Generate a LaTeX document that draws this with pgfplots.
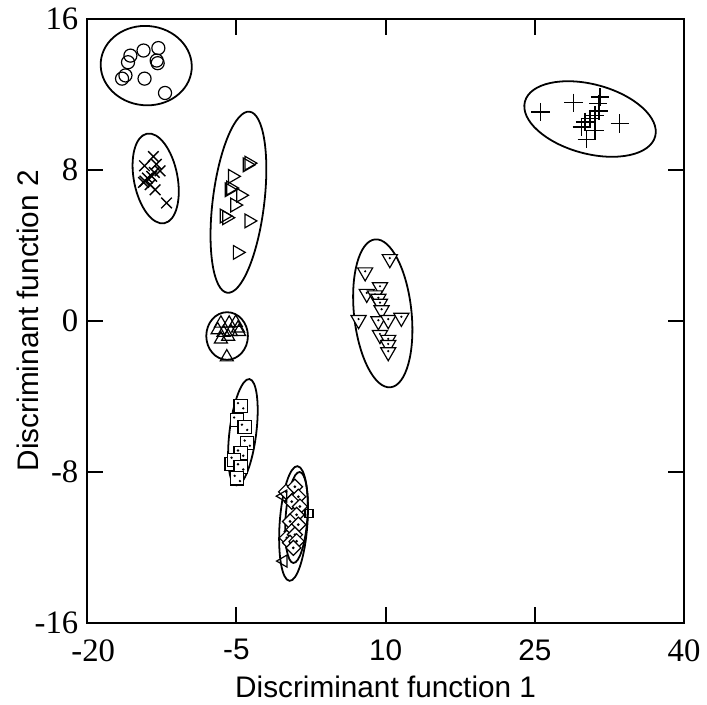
\documentclass[border=0pt]{standalone}
\usepackage{fontspec}
\setmainfont{Liberation Serif}
\newfontfamily\sansf{Liberation Sans}
\usepackage{pgfplots}
\pgfplotsset{compat=1.18}

\newcommand{\sr}{\rmfamily\fontsize{16.5}{19}\selectfont}
\newcommand{\sn}{\sansf\fontsize{15}{18}\selectfont}

% square with two dots
\pgfdeclareplotmark{dotsquare}{%
  \pgfpathrectangle{\pgfqpoint{-\pgfplotmarksize}{-\pgfplotmarksize}}{\pgfqpoint{2\pgfplotmarksize}{2\pgfplotmarksize}}%
  \pgfusepathqfillstroke
  \pgfscope
  \pgfsetfillcolor{black}%
  \pgfpathcircle{\pgfqpoint{-0.4\pgfplotmarksize}{0.4\pgfplotmarksize}}{0.2\pgfplotmarksize}%
  \pgfpathcircle{\pgfqpoint{0.4\pgfplotmarksize}{-0.4\pgfplotmarksize}}{0.2\pgfplotmarksize}%
  \pgfusepathqfill
  \endpgfscope
}
% diamond with dot
\pgfdeclareplotmark{dotdiamond}{%
  \pgfpathmoveto{\pgfqpoint{0pt}{\pgfplotmarksize}}%
  \pgfpathlineto{\pgfqpoint{\pgfplotmarksize}{0pt}}%
  \pgfpathlineto{\pgfqpoint{0pt}{-\pgfplotmarksize}}%
  \pgfpathlineto{\pgfqpoint{-\pgfplotmarksize}{0pt}}%
  \pgfpathclose
  \pgfusepathqfillstroke
  \pgfscope
  \pgfsetfillcolor{black}%
  \pgfpathcircle{\pgfqpoint{0pt}{0pt}}{0.2\pgfplotmarksize}%
  \pgfusepathqfill
  \endpgfscope
}
% down triangle with dot
\pgfdeclareplotmark{dottri}{%
  \pgfpathmoveto{\pgfqpoint{0pt}{-\pgfplotmarksize}}%
  \pgfpathlineto{\pgfqpoint{0.866\pgfplotmarksize}{0.5\pgfplotmarksize}}%
  \pgfpathlineto{\pgfqpoint{-0.866\pgfplotmarksize}{0.5\pgfplotmarksize}}%
  \pgfpathclose
  \pgfusepathqfillstroke
  \pgfscope
  \pgfsetfillcolor{black}%
  \pgfpathcircle{\pgfqpoint{0pt}{0.1\pgfplotmarksize}}{0.14\pgfplotmarksize}%
  \pgfusepathqfill
  \endpgfscope
}

\begin{document}
\begin{tikzpicture}
\begin{axis}[
    name=ax,
    scale only axis,
    width=301pt, height=304.5pt,
    xmin=-20, xmax=40,
    ymin=-16, ymax=16,
    xtick={-20,-5,10,25,40},
    xticklabels={{\hspace*{6pt}\sr -20},{\sn -5},{\sn 10},{\sn 25},{\sr 40}},
    xticklabel style={yshift=-5pt},
    ytick={-16,-8,0,8,16},
    yticklabels={{\sr -16},{\sr -8},{\sr 0},{\sr 8},{\sr 16}},
    yticklabel style={xshift=-1pt},
    minor tick num=0,
    major tick length=8pt,
    tick style={black, line width=1pt},
    axis line style={line width=1pt},
    xlabel={\sn Discriminant function 1},
    ylabel={\sn Discriminant function 2},
    every axis x label/.style={at={(axis description cs:0.5,-0.106)}, anchor=center},
    every axis y label/.style={at={(axis description cs:-0.0997,0.5)}, anchor=center, rotate=90},
    clip=false,
]

\coordinate (bl) at (rel axis cs:-0.1462,-0.1297);
\coordinate (tr) at (rel axis cs:1.0266,1.0312);

% ellipses
\draw[line width=0.9pt, rotate around={-5:(axis cs:-14.07,13.52)}] (axis cs:-14.07,13.52) ellipse [x radius=23pt, y radius=20pt];
\draw[line width=0.9pt, rotate around={11:(axis cs:-13.12,7.54)}] (axis cs:-13.12,7.54) ellipse [x radius=11pt, y radius=23pt];
\draw[line width=0.9pt, rotate around={-7:(axis cs:-4.80,6.28)}] (axis cs:-4.80,6.28) ellipse [x radius=13pt, y radius=46pt];
\draw[line width=0.9pt] (axis cs:-5.94,-0.81) ellipse [x radius=10.5pt, y radius=12pt];
\draw[line width=0.9pt, rotate around={-7:(axis cs:-4.35,-5.91)}] (axis cs:-4.35,-5.91) ellipse [x radius=6.75pt, y radius=27pt];
\draw[line width=0.9pt, rotate around={-4:(axis cs:0.74,-10.75)}] (axis cs:0.74,-10.75) ellipse [x radius=7pt, y radius=29pt];
\draw[line width=0.9pt, rotate around={-4:(axis cs:1.04,-10.43)}] (axis cs:1.04,-10.43) ellipse [x radius=5.5pt, y radius=23pt];
\draw[line width=0.9pt, rotate around={6:(axis cs:9.71,0.39)}] (axis cs:9.71,0.39) ellipse [x radius=14.5pt, y radius=37.5pt];
\draw[line width=0.9pt, rotate around={-15:(axis cs:30.55,10.69)}] (axis cs:30.55,10.69) ellipse [x radius=34pt, y radius=17.5pt];

% circles
\addplot[only marks, mark=o, mark size=3.3pt, mark options={line width=0.6pt}] coordinates {
  (-15.66,14.05) (-14.34,14.32) (-12.85,14.45) (-15.90,13.70) (-13.02,13.79)
  (-12.92,13.65) (-16.16,13.00) (-16.50,12.83) (-14.24,12.83) (-12.18,12.07)
};
% crosses
\addplot[only marks, mark=x, mark size=3.8pt, mark options={line width=0.7pt}] coordinates {
  (-13.35,8.70) (-14.24,8.21) (-12.68,7.94) (-13.25,7.86) (-13.52,7.65)
  (-14.34,7.33) (-13.67,7.21) (-13.18,6.94) (-12.03,6.24) (-13.94,7.56)
  (-13.05,8.29) (-14.20,7.40)
};
% right-pointing triangles
\addplot[only marks, mark=triangle, mark size=4pt, mark options={line width=0.6pt, rotate=-90}] coordinates {
  (-3.74,8.35) (-5.40,7.65) (-5.73,6.94) (-4.58,6.65) (-5.17,6.13)
  (-5.97,5.46) (-3.74,5.29) (-4.91,3.62) (-5.57,7.03) (-6.23,5.55)
  (-3.91,8.26)
};
% up triangles
\addplot[only marks, mark=triangle, mark size=3.8pt, mark options={line width=0.6pt, fill=white}] coordinates {
  (-6.56,-0.14) (-5.73,-0.14) (-5.07,-0.10) (-4.84,-0.40) (-6.89,-0.49)
  (-6.30,-0.63) (-5.57,-0.58) (-4.74,-0.58) (-6.56,-0.98) (-5.83,-0.84)
  (-5.97,-1.93)
};
% dotted squares
\addplot[only marks, mark=dotsquare, mark size=3.3pt, mark options={line width=0.6pt, fill=white}] coordinates {
  (-4.58,-4.51) (-4.97,-5.27) (-4.18,-5.65) (-3.91,-6.49) (-5.50,-7.61)
  (-4.58,-7.02) (-5.23,-7.40) (-4.58,-7.75) (-4.91,-8.36)
};
% dotted diamonds
\addplot[only marks, mark=dotdiamond, mark size=3.8pt, mark options={line width=0.6pt, fill=white}] coordinates {
  (-0.01,-9.07) (0.88,-8.80) (1.22,-9.33) (0.56,-9.59) (1.38,-9.85)
  (1.05,-10.29) (0.39,-10.64) (1.22,-10.81) (0.56,-11.17) (0.06,-11.51)
  (0.88,-11.34) (0.39,-11.77) (1.05,-11.69) (0.72,-12.04)
};
\addplot[only marks, mark=triangle, mark size=3.5pt, mark options={line width=0.6pt, rotate=90}] coordinates {
  (-0.27,-12.74) (-0.30,-9.30)
};
\addplot[only marks, mark=square, mark size=2pt, mark options={line width=0.6pt}] coordinates {
  (2.30,-10.22)
};
% dotted down triangles
\addplot[only marks, mark=dottri, mark size=4.4pt, mark options={line width=0.6pt, fill=white}] coordinates {
  (10.42,3.27) (7.94,2.57) (9.43,1.78) (8.10,1.43) (8.93,1.35)
  (9.27,1.17) (9.43,0.91) (9.59,0.56) (7.28,0.04) (9.27,-0.02)
  (10.26,0.04) (11.58,0.16) (9.43,-0.75) (10.26,-1.01) (10.26,-1.28)
  (10.26,-1.66)
};
% plus signs
\addplot[only marks, mark=+, mark size=4.6pt, mark options={line width=0.7pt}] coordinates {
  (25.58,11.06) (28.89,11.55) (31.54,11.85) (31.44,11.11) (31.04,10.88)
  (30.55,10.71) (30.05,10.54) (29.72,10.27) (31.04,10.09) (30.22,9.62)
  (33.53,10.45) (31.37,11.50)
};
\end{axis}
\path (bl) rectangle (tr);
\end{tikzpicture}
\end{document}
